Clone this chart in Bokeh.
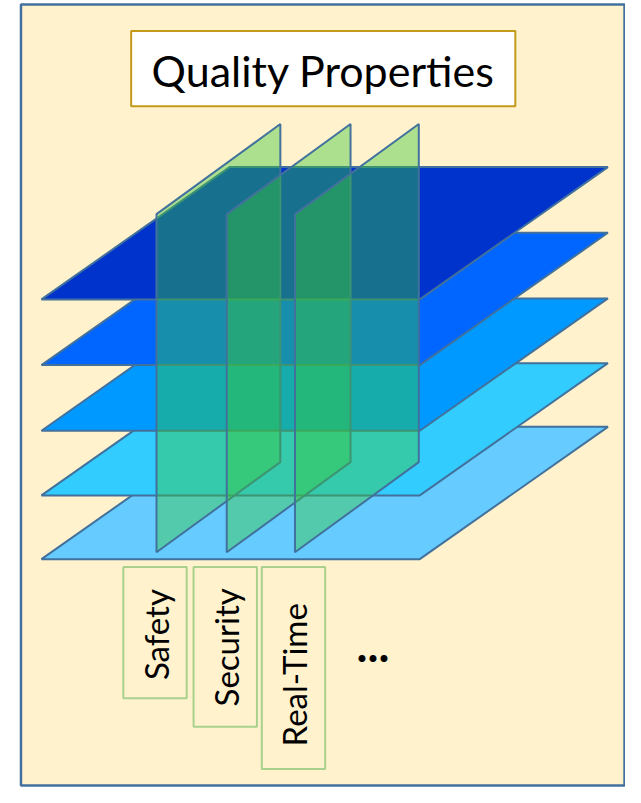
from bokeh.plotting import figure
from bokeh.models import Range1d
from bokeh.core.properties import value
from bokeh.embed import file_html
from bokeh.resources import INLINE
import math

# ---- diagram content ----
title_text = "Quality Properties"
layer_colors = ["#0033CC", "#0066FF", "#0099FF", "#33CCFF", "#66CCFF"]  # top -> bottom
layer_top_y = [170, 237, 304, 370, 435]
quality_props = ["Safety", "Security", "Real-Time"]
prop_front_x = [160, 232, 302]
prop_label_y = [647, 660, 688]
prop_box_bottom = [712, 741, 784]
more_label = "..."

# ---- geometry / style ----
FONT = "Lato"
OUTLINE = "#41719C"
L_LEFT, L_WIDTH, L_DX, L_DY = 42, 388, 193, 135
G_TOP_FRONT, G_HEIGHT, G_DX, G_DY = 218, 345, 127, 92

p = figure(width=625, height=787, x_range=Range1d(0, 641), y_range=Range1d(803, 0),
           output_backend="svg", toolbar_location=None, min_border=0,
           x_axis_type=None, y_axis_type=None)
p.grid.visible = False
p.outline_line_color = None
p.background_fill_color = "white"
p.border_fill_color = "white"

# outer frame
p.quad(left=[21], right=[640], top=[4], bottom=[801], fill_color="#FFF2CC",
       line_color=OUTLINE, line_width=2.5)

# title box
p.quad(left=[134], right=[528], top=[31], bottom=[108], fill_color="white",
       line_color="#C49A1A", line_width=2)
p.text(x=[331], y=[71], text=[title_text], text_font=value(FONT), text_font_size="43px",
       text_align="center", text_baseline="middle", text_color="black")

# horizontal layers (draw bottom first)
for col, ty in reversed(list(zip(layer_colors, layer_top_y))):
    by = ty + L_DY
    xs = [L_LEFT, L_LEFT + L_WIDTH, L_LEFT + L_WIDTH + L_DX, L_LEFT + L_DX]
    ys = [by, by, ty, ty]
    p.patch(xs, ys, fill_color=col, line_color=OUTLINE, line_width=2)

# vertical quality planes
for fx in prop_front_x:
    xs = [fx, fx + G_DX, fx + G_DX, fx]
    ys = [G_TOP_FRONT, G_TOP_FRONT - G_DY, G_TOP_FRONT - G_DY + G_HEIGHT, G_TOP_FRONT + G_HEIGHT]
    p.patch(xs, ys, fill_color=(56, 200, 54), fill_alpha=0.41,
            line_color=OUTLINE, line_width=2)

# label boxes
p.quad(left=[x - 34 for x in prop_front_x], right=[x + 31 for x in prop_front_x],
       top=[578] * 3, bottom=prop_box_bottom, fill_color=None,
       line_color="#A9D18E", line_width=2)
p.text(x=[x - 1 for x in prop_front_x], y=prop_label_y, text=quality_props,
       angle=math.pi / 2, text_font=value(FONT), text_font_size="33px",
       text_align="center", text_baseline="middle", text_color="black")
p.text(x=[382], y=[658], text=[more_label], text_font=value(FONT), text_font_size="46px",
       text_font_style="bold", text_align="center", text_baseline="middle", text_color="black")

open("out.html", "w").write(file_html(p, INLINE))
